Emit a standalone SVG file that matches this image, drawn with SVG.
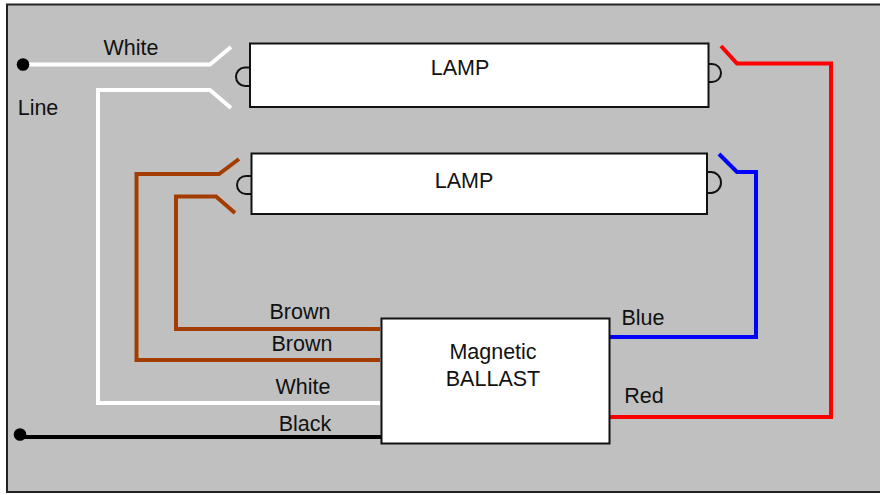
<svg xmlns="http://www.w3.org/2000/svg" width="880" height="495" viewBox="0 0 880 495">
<style>
.box{fill:#fff;stroke:#111;stroke-width:2}
.bump{fill:none;stroke:#111;stroke-width:2}
.w{fill:none;stroke-width:4;stroke-linejoin:miter}
.t{font-family:"Liberation Sans",Arial,sans-serif;font-size:21.500px;fill:#111;text-anchor:middle}
</style>
<rect width="880" height="495" fill="#fff"/>
<rect x="7" y="4.500" width="880" height="487.500" fill="#c0c0c0" stroke="#222" stroke-width="2"/>
<g id="connectors">
<path class="w" stroke="#fff" d="M23 64.500H210L231 47"/>
<path class="w" stroke="#fff" d="M231 108L210 90H98V403H380"/>
<path class="w" stroke="#a33c00" d="M239 159L219 174H136.500V360H380"/>
<path class="w" stroke="#a33c00" d="M235 213L216 196.500H176V329H380"/>
<path class="w" stroke="#f00" d="M721 46L737 63.500H831V417H610"/>
<path class="w" stroke="#00f" d="M719 154L737 172H756V337H610"/>
<path class="w" stroke="#000" d="M20 437H381"/>
</g>
<g id="line-terminal-top"><circle cx="23" cy="64.500" r="6.300" fill="#000"/></g>
<g id="line-terminal-bottom"><circle cx="20" cy="434.500" r="6.300" fill="#000"/></g>
<g id="lamp-1">
<path class="bump" d="M249 67.500H245A9 9.250 0 0 0 245 86H249"/>
<path class="bump" d="M709 64H712A9 9 0 0 1 712 82H709"/>
<rect class="box" x="250" y="43.500" width="458.500" height="63.500"/>
<text class="t" x="460" y="75">LAMP</text>
</g>
<g id="lamp-2">
<path class="bump" d="M251 176H246A9 9 0 0 0 246 194H251"/>
<path class="bump" d="M707 172H711A10 10.500 0 0 1 711 193H707"/>
<rect class="box" x="251.500" y="153.500" width="455.500" height="60.500"/>
<text class="t" x="464" y="188">LAMP</text>
</g>
<g id="ballast">
<rect class="box" x="381.500" y="318.500" width="228" height="125"/>
<text class="t" x="493" y="359">Magnetic</text>
<text class="t" x="493" y="386">BALLAST</text>
</g>
<g id="labels">
<text class="t" x="131" y="55">White</text>
<text class="t" x="38" y="115">Line</text>
<text class="t" x="300" y="319">Brown</text>
<text class="t" x="302" y="351">Brown</text>
<text class="t" x="303" y="394">White</text>
<text class="t" x="305" y="431">Black</text>
<text class="t" x="643" y="325">Blue</text>
<text class="t" x="644" y="403">Red</text>
</g>
</svg>
